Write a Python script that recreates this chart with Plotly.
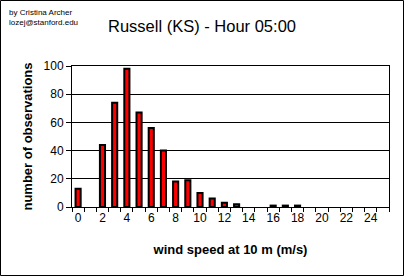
import plotly.graph_objects as go

speeds = list(range(26))
counts = [13, 0, 44, 74, 98, 67, 56, 40, 18, 19, 10, 6, 3, 2, 0, 0, 1, 1, 1, 0, 0, 0, 0, 0, 0, 0]
tick_labels = [str(v) for v in range(0, 25, 2)]

W, H = 404, 277
ML, MR, MT, MB = 72, 15, 66, 70
PW, PH = W - ML - MR, H - MT - MB

fig = go.Figure()
fig.add_trace(go.Bar(
    x=speeds, y=[c if c > 0 else None for c in counts], width=0.42,
    marker=dict(color="#FF0000", line=dict(color="black", width=2)),
))

FONT = "Liberation Sans, Arial, sans-serif"
fig.update_layout(
    width=W, height=H,
    margin=dict(l=ML, r=MR, t=MT, b=MB),
    paper_bgcolor="white", plot_bgcolor="white",
    showlegend=False,
    font=dict(family=FONT, size=12, color="black"),
    title=dict(text="Russell (KS) - Hour 05:00", x=0.5, xanchor="center",
               y=1 - 26 / H, yanchor="middle",
               font=dict(family=FONT, size=16.5, color="black")),
    xaxis=dict(
        range=[-0.5, 25.5], tickvals=list(range(0, 25, 2)), ticktext=tick_labels,
        ticks="", showgrid=False, zeroline=False,
        showline=True, linecolor="black", linewidth=1, mirror=True,
        minor=dict(tick0=-0.5, dtick=1, ticks="outside", ticklen=4,
                   tickcolor="black", tickwidth=1, showgrid=False),
        tickfont=dict(size=12),
        title=dict(text="<b>wind speed at 10 m (m/s)</b>", standoff=20,
                   font=dict(size=13)),
    ),
    yaxis=dict(
        range=[0, 100], tickvals=[0, 20, 40, 60, 80, 100],
        ticks="outside", ticklen=5, tickcolor="black", tickwidth=1,
        showgrid=True, gridcolor="black", gridwidth=1, zeroline=False,
        showline=True, linecolor="black", linewidth=1, mirror=True,
        tickfont=dict(size=12),
        title=dict(text="<b>number of observations</b>", standoff=8,
                   font=dict(size=13)),
    ),
)

fig.add_annotation(text="by Cristina Archer<br>lozej@stanford.edu", xref="paper", yref="paper",
                   x=-(ML - 7) / PW, y=1 + (MT - 6) / PH, xanchor="left", yanchor="top",
                   align="left", showarrow=False, font=dict(size=8, family=FONT))

fig.add_shape(type="rect", xref="paper", yref="paper",
              x0=-(ML - 0.5) / PW, x1=1 + (MR - 0.5) / PW,
              y0=-(MB - 1.5) / PH, y1=1 + (MT - 0.5) / PH,
              line=dict(color="black", width=1))

fig.write_html("out.html")
